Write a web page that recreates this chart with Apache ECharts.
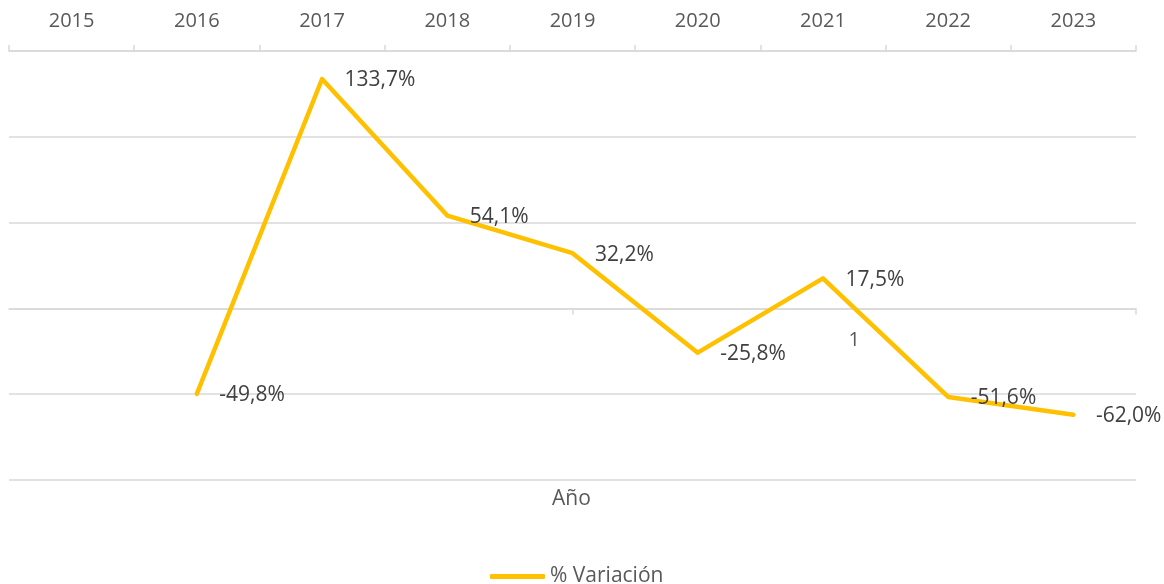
<!DOCTYPE html>
<html>
<head>
<meta charset="utf-8">
<script src="https://cdn.jsdelivr.net/npm/echarts@6/dist/echarts.min.js"></script>
<style>
html,body{margin:0;padding:0;background:#fff;}
#chart{width:1164px;height:584px;}
</style>
</head>
<body>
<div id="chart"></div>
<script>
var years = ['2015','2016','2017','2018','2019','2020','2021','2022','2023'];
var variacion = [null, -49.8, 133.7, 54.1, 32.2, -25.8, 17.5, -51.6, -62.0];
var secondaryCategories = ['', '1'];
var seriesName = '% Variación';
var axisTitle = 'Año';

var FONT = 'Open Sans';
var TXT = '#595959';
var GRID = '#d9d9d9';
var GOLD = '#FFC000';

// secondary horizontal axis: one slot per secondary category, ticks at the slot ends
var secTicks = secondaryCategories.map(function (c, i) { return i + 1; });

var chart = echarts.init(document.getElementById('chart'));
chart.setOption({
  animation: false,
  backgroundColor: '#ffffff',
  textStyle: { fontFamily: FONT },
  grid: { left: 9, right: 28, top: 51, bottom: 104 },
  xAxis: [
    {
      type: 'category',
      data: years,
      position: 'top',
      boundaryGap: true,
      axisLine: { show: true, onZero: false, lineStyle: { color: GRID, width: 1.5 } },
      axisTick: { show: true, length: 6, lineStyle: { color: GRID, width: 1.5 } },
      axisLabel: { color: TXT, fontSize: 20, fontFamily: FONT, margin: 20 },
      splitLine: { show: false }
    },
    {
      type: 'value',
      min: 0,
      max: secondaryCategories.length,
      interval: 1,
      position: 'bottom',
      axisLine: { show: true, onZero: true, lineStyle: { color: GRID, width: 1.5 } },
      axisTick: { show: true, length: 6, lineStyle: { color: GRID, width: 1.5 },
                  customValues: secTicks },
      axisLabel: { show: false },
      splitLine: { show: false }
    }
  ],
  yAxis: {
    type: 'value',
    min: -100,
    max: 150,
    interval: 50,
    axisLine: { show: false },
    axisTick: { show: false },
    axisLabel: { show: false },
    splitLine: { show: true, lineStyle: { color: GRID, width: 1.5 } }
  },
  legend: {
    left: 485,
    top: 561,
    icon: 'roundRect',
    itemWidth: 55,
    itemHeight: 5,
    itemGap: 10,
    textStyle: { color: TXT, fontSize: 21, fontFamily: FONT },
    data: [{ name: seriesName, itemStyle: { color: GOLD, opacity: 1 } }]
  },
  series: [
    {
      name: seriesName,
      type: 'line',
      xAxisIndex: 0,
      data: variacion,
      connectNulls: false,
      symbol: 'circle',
      symbolSize: 1,
      showSymbol: true,
      itemStyle: { color: GOLD },
      color: GOLD,
      lineStyle: { color: GOLD, width: 4.5, join: 'round', cap: 'round' },
      label: {
        show: true,
        position: 'right',
        distance: 22,
        offset: [0, 1.5],
        color: '#404040',
        fontSize: 21,
        fontFamily: FONT,
        formatter: function (p) {
          return p.value == null ? '' : p.value.toFixed(1).replace('.', ',') + '%';
        }
      }
    }
  ]
});

// axis title and the "1" label of the secondary axis (placed through the axes' scales)
var px = chart.convertToPixel({ xAxisIndex: 1 }, 1.5);
var py = chart.convertToPixel({ yAxisIndex: 0 }, 0);
chart.setOption({
  graphic: [
    {
      type: 'text',
      left: 552,
      top: 489,
      style: { text: axisTitle, fill: TXT, fontSize: 21, fontFamily: FONT }
    },
    {
      type: 'text',
      x: px,
      y: py + 32,
      style: { text: secondaryCategories[1], fill: TXT, fontSize: 20, fontFamily: FONT,
               align: 'center', verticalAlign: 'middle' }
    }
  ]
});
</script>
</body>
</html>
